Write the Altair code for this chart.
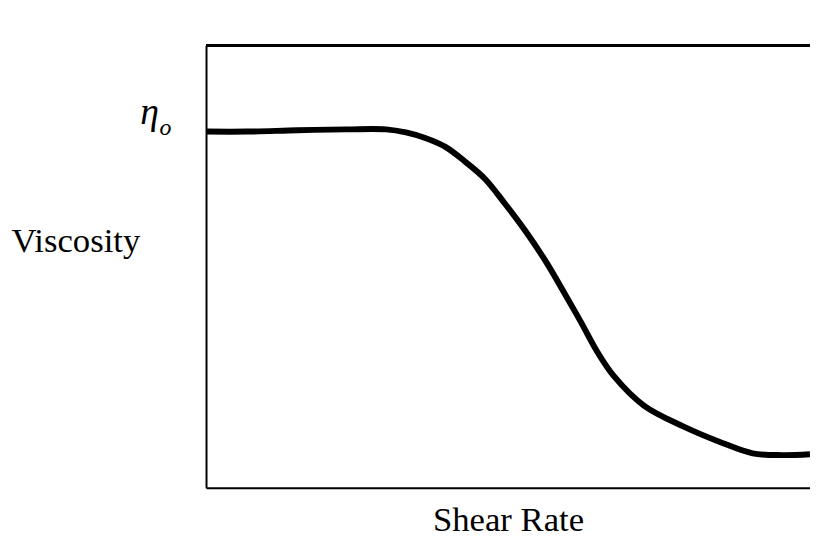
import altair as alt
import pandas as pd

# Data (arbitrary units)
shear_rate = [0, 0.69, 1.51, 2.33, 2.98, 3.31, 3.64, 3.97, 4.30, 4.62, 4.95, 5.28,
              5.61, 5.93, 6.21, 6.48, 6.75, 7.25, 7.90, 8.56, 9.05, 9.54, 10.0]
viscosity = [8.05, 8.05, 8.08, 8.10, 8.10, 8.03, 7.90, 7.70, 7.36, 6.98, 6.42, 5.82,
             5.15, 4.41, 3.74, 3.07, 2.53, 1.86, 1.39, 1.01, 0.78, 0.74, 0.76]
eta0_value = 8.05
eta_symbol = "\u03b7"
eta_sub = "o"

W = 610
H = 447

df = pd.DataFrame({"x": shear_rate, "y": viscosity})
lab = pd.DataFrame({"x": [0], "y": [eta0_value]})

xscale = alt.Scale(domain=[0, 10], nice=False, zero=False)
yscale = alt.Scale(domain=[0, 10], nice=False, zero=False)

line = alt.Chart(df).mark_line(
    color="black", strokeWidth=6, interpolate="catmull-rom", strokeCap="butt"
).encode(
    x=alt.X("x:Q", scale=xscale, axis=alt.Axis(
        title="Shear Rate", labels=False, ticks=False, grid=False,
        domainColor="black", domainWidth=2, titleFont="Liberation Serif",
        titleFontSize=35, titleFontWeight="normal", titleColor="black",
        titleBaseline="alphabetic", titlePadding=43)),
    y=alt.Y("y:Q", scale=yscale, axis=alt.Axis(
        title="Viscosity", labels=False,
        ticks=False, grid=False, domainColor="black", domainWidth=2,
        titleAngle=0, titleX=-132, titleY=197, titleAlign="center",
        titleBaseline="middle", titleFont="Liberation Serif", titleFontSize=35,
        titleFontWeight="normal", titleColor="black")),
)

eta = alt.Chart(lab).mark_text(
    text=eta_symbol, font="Liberation Serif", fontStyle="italic", fontSize=38,
    color="black", align="center", baseline="alphabetic", dx=-57, dy=-8
).encode(x=alt.X("x:Q", scale=xscale), y=alt.Y("y:Q", scale=yscale))

sub = alt.Chart(lab).mark_text(
    text=eta_sub, font="Liberation Serif", fontStyle="italic", fontSize=24,
    color="black", align="center", baseline="alphabetic", dx=-41, dy=3
).encode(x=alt.X("x:Q", scale=xscale), y=alt.Y("y:Q", scale=yscale))

top = alt.Chart(df).mark_rule(color="black", strokeWidth=2).encode(
    x=alt.value(0), x2=alt.value(W), y=alt.value(0)
)

chart = alt.layer(line, eta, sub, top).properties(
    width=W, height=H,
    autosize=alt.AutoSizeParams(type="none"),
    padding={"left": 200, "top": 35, "right": 0, "bottom": 50},
).configure_view(stroke=None).configure(background="white")

chart.save("out.html", embed_options={"renderer": "svg", "actions": False})
